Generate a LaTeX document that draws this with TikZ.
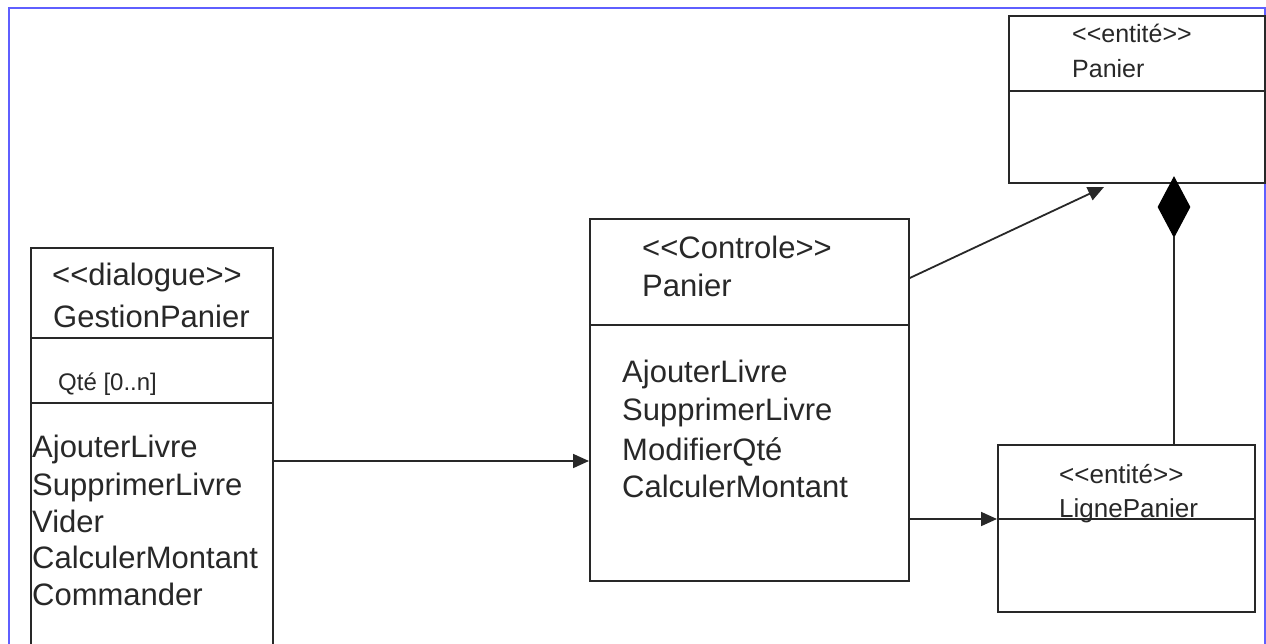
\documentclass[tikz,border=0pt]{standalone}
\usepackage{fontspec}
\setmainfont{Liberation Sans}
\usetikzlibrary{arrows.meta,shapes.geometric}
\definecolor{framecol}{RGB}{95,95,255}
\definecolor{inkcol}{RGB}{40,40,40}
\newcommand{\myLL}{<\kern0pt<}
\newcommand{\myGG}{>\kern0pt>}
\begin{document}
\begin{tikzpicture}[x=1pt,y=-1pt,
  line/.style={draw=inkcol, line width=1.8pt},
  box/.style={line, rectangle, inner sep=0pt, anchor=north west, fill=white},
  txt/.style={text=inkcol, inner sep=0pt, anchor=base west},
  big/.style={txt, font=\fontsize{31}{37}\selectfont},
  med/.style={txt, font=\fontsize{25}{30}\selectfont},
  small/.style={txt, font=\fontsize{24}{28}\selectfont},
  arr/.style={line, -{Triangle[length=16pt,width=14pt]}}]
\useasboundingbox (0,0) rectangle (1266,644);
\clip (0,0) rectangle (1266,644);
\fill[white] (0,0) rectangle (1266,644);
% frame
\draw[framecol, line width=2.4pt] (9,680) -- (9,8) -- (1265,8) -- (1265,680);

% GestionPanier box
\node[box, minimum width=242pt, minimum height=430pt] (gp) at (30,247) {};
\draw[line] (gp.west |- 0,338) -- (gp.east |- 0,338);
\draw[line] (gp.west |- 0,403) -- (gp.east |- 0,403);
\node[big] (gp1) at (52,286) {\myLL dialogue\myGG};
\node[big] (gp2) at (53,327) {GestionPanier};
\node[small] (gpa) at (58,390) {Qté [0..n]};
\node[big] (gpm1) at (32,457) {AjouterLivre};
\node[big] (gpm2) at (32,495) {SupprimerLivre};
\node[big] (gpm3) at (32,532) {Vider};
\node[big] (gpm4) at (32,568) {CalculerMontant};
\node[big] (gpm5) at (32,605) {Commander};

% Controle Panier box
\node[box, minimum width=319pt, minimum height=362pt] (ctl) at (589,218) {};
\draw[line] (ctl.west |- 0,325) -- (ctl.east |- 0,325);
\node[big] (ct1) at (642,259) {\myLL Controle\myGG};
\node[big] (ct2) at (642,297) {Panier};
\node[big] (ctm1) at (622,382) {AjouterLivre};
\node[big] (ctm2) at (622,420) {SupprimerLivre};
\node[big] (ctm3) at (622,460) {ModifierQté};
\node[big] (ctm4) at (622,497) {CalculerMontant};

% entite Panier box
\node[box, minimum width=256pt, minimum height=167pt] (ep) at (1008,15) {};
\draw[line] (ep.west |- 0,91) -- (ep.east |- 0,91);
\node[med] (ep1) at (1072,43) {\myLL entité\myGG};
\node[med] (ep2) at (1072,78) {Panier};

% LignePanier box
\node[box, minimum width=257pt, minimum height=167pt] (lp) at (997,444) {};
\draw[line] (lp.west |- 0,519) -- (lp.east |- 0,519);
\node[med, font=\fontsize{26}{30}\selectfont] (lp1) at (1059,483) {\myLL entité\myGG};
\node[med, font=\fontsize{26}{30}\selectfont] (lp2) at (1059,517) {LignePanier};

% connectors
\draw[arr] (gp.east |- 0,461) -- (ctl.west |- 0,461);
\coordinate (tipA) at (1104,187);
\draw[arr] (ctl.east |- 0,278) -- (tipA);
\draw[arr] (ctl.east |- 0,519) -- (lp.west |- 0,519);
\node[diamond, fill=black, draw=black, line width=1pt, minimum width=32pt, minimum height=60pt, inner sep=0pt] (dm) at (1174,207) {};
\draw[line] (dm.south) -- (dm.south |- lp.north);
\end{tikzpicture}
\end{document}
